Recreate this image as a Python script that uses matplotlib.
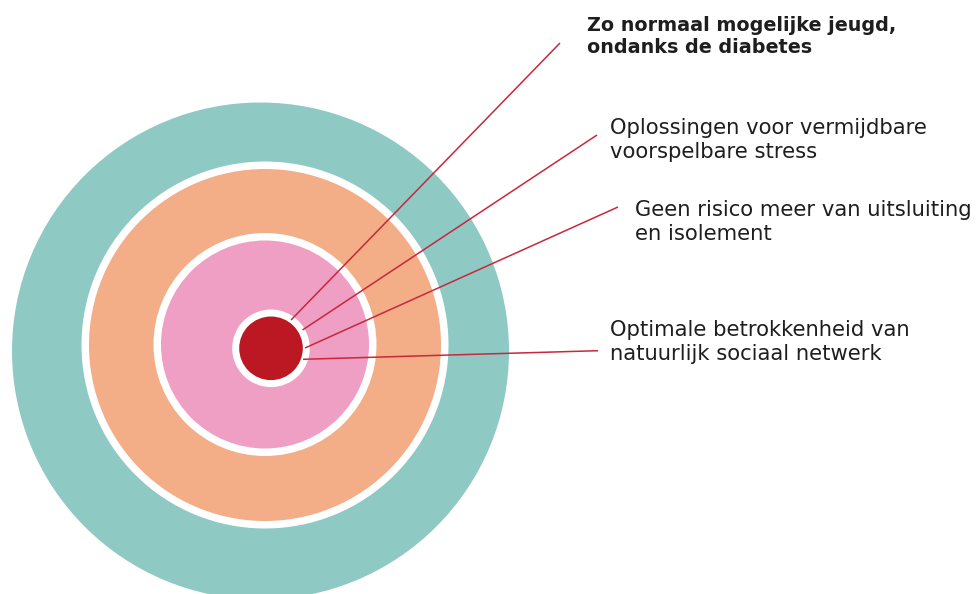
import matplotlib
matplotlib.use('Agg')
import matplotlib.pyplot as plt
from matplotlib.patches import Circle

# rings, from outside to inside
ring_radius = [248.5, 176, 104, 31.8]
ring_gap = [0, 7.5, 7.5, 7]
ring_center = [(260.5, 351), (265, 345), (265, 344.5), (271, 348.3)]
ring_color = ['#8fc9c3', '#f3ad87', '#ef9ec4', '#bb1823']

labels = ['Zo normaal mogelijke jeugd,\nondanks de diabetes',
          'Oplossingen voor vermijdbare\nvoorspelbare stress',
          'Geen risico meer van uitsluiting\nen isolement',
          'Optimale betrokkenheid van\nnatuurlijk sociaal netwerk']
label_bold = [True, False, False, False]
label_pos = [(587, 16), (610, 118), (635, 200), (610, 320)]
line_start = [(291, 320), (302.5, 330), (305, 348), (303, 359.3)]
line_end = [(560, 43), (597, 135), (618, 207), (598, 350.7)]

fig = plt.figure(figsize=(9.79, 5.94), dpi=100)
ax = fig.add_axes([0, 0, 1, 1])
ax.set_xlim(0, 979)
ax.set_ylim(594, 0)
ax.set_aspect('equal')
ax.axis('off')

for i in range(len(ring_radius)):
    cx, cy = ring_center[i]
    if ring_gap[i] > 0:
        ax.add_patch(Circle((cx, cy), ring_radius[i] + ring_gap[i], color='white', lw=0))
    ax.add_patch(Circle((cx, cy), ring_radius[i], color=ring_color[i], lw=0))

for s, e in zip(line_start, line_end):
    ax.plot([s[0], e[0]], [s[1], e[1]], color='#c8283a', lw=1.1, solid_capstyle='butt')

for txt, (x, y), b in zip(labels, label_pos, label_bold):
    ax.text(x, y, txt, fontsize=13.8 if b else 15.2, fontweight='bold' if b else 'normal',
            color='#1e1e1e', va='top', ha='left', linespacing=1.22,
            family='DejaVu Sans')

fig.savefig('out.png', dpi=100)
